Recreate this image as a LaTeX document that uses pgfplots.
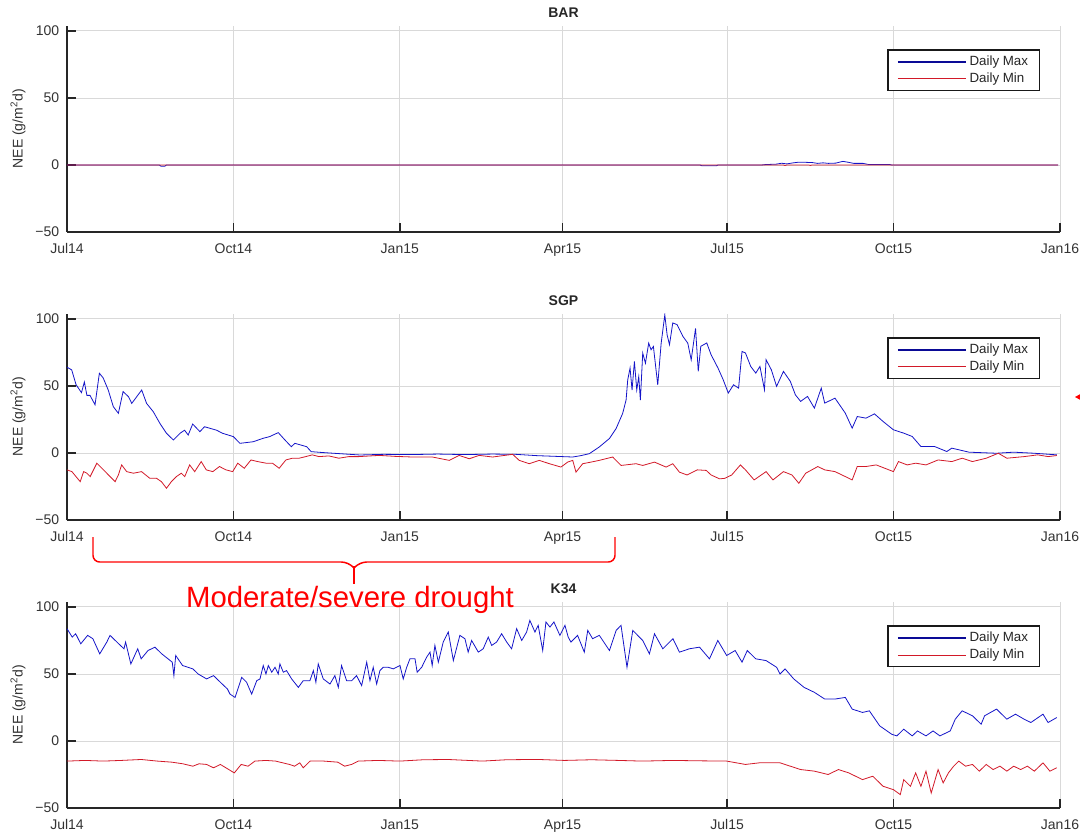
\documentclass[border=0pt]{standalone}
\usepackage{pgfplots}
\pgfplotsset{compat=1.18}
\usepackage{fontspec}
\setmainfont{Liberation Sans}
\definecolor{blmax}{RGB}{20,20,200}
\definecolor{rdmin}{RGB}{210,25,40}
\definecolor{legblue}{RGB}{10,10,150}
\pgfplotsset{
  panel/.style={
    scale only axis, width=744.75pt, height=154.8pt,
    xmin=0, xmax=549, ymin=-50, ymax=104,
    xtick={0,92,184,274,365,457,549},
    xticklabels={Jul14,Oct14,Jan15,Apr15,Jul15,Oct15,Jan16},
    ytick={-50,0,50,100},
    yticklabels={−50,0,50,100},
    axis x line*=bottom, axis y line*=left,
    axis line style={-, line width=1.3pt, black!85},
    tick align=inside, major tick length=7pt,
    tick style={line width=1.1pt, black!85},
    grid=major, major grid style={black!15, line width=0.7pt},
    ticklabel style={font=\fontsize{10.5}{12}\selectfont, text=black!80},
    xticklabel style={yshift=-5pt},
    yticklabel style={xshift=-2.3pt},
    ylabel={NEE (g/m\textsuperscript{2}d)},
    ylabel style={at={(axis description cs:-0.0493,0.5)}, anchor=center, font=\fontsize{10.5}{12}\selectfont, text=black!80},
    title style={at={(axis description cs:0.5,1)}, anchor=center, yshift=3.4pt, font=\fontsize{10.5}{12}\selectfont\bfseries, text=black!85},
    legend cell align=left,
    legend style={at={(rel axis cs:0.98,0.885)}, anchor=north east, draw=black!90, line width=1.1pt, fill=white,
      font=\fontsize{10}{11.5}\selectfont, inner xsep=6.5pt, inner ysep=2.5pt, row sep=0pt,
      nodes={inner sep=2pt, text=black!85}},
  },
  maxline/.style={blmax, line width=0.6pt, legend image code/.code={\draw[draw=legblue, line width=1.5pt] (0pt,0pt) -- (51pt,0pt);}},
  minline/.style={rdmin, line width=0.6pt, legend image code/.code={\draw[draw=rdmin, line width=0.6pt] (0pt,0pt) -- (51pt,0pt);}},
}
\begin{document}
\begin{tikzpicture}
\useasboundingbox (0pt,0pt) rectangle (810pt,627pt);
% ---------------- BAR ----------------
\begin{axis}[panel, at={(50.25pt,453pt)}, anchor=south west, title={BAR}]
\addplot[maxline] coordinates {
(0,0)(51,0)(52,-1)(54,-1)(55,0)(350,0)(351,-0.6)(359,-0.6)(360,0)(384,0)(386,0.3)(392,0.6)(395,1.3)(398,0.8)(401,1.5)(404,2)(408,2)(412,1.8)(415,1.2)(418,1.6)(421,1.2)(425,1.4)(429,2.7)(432,2)(435,1.2)(440,1.2)(443,0.4)(455,0.3)(456,0)(548,0)
};
\addlegendentry{Daily Max}
\addplot[minline] coordinates {
(0,0)(396,0)(397,-0.4)(398,0)(410,0)(411,-0.3)(412,0)(548,0)
};
\addlegendentry{Daily Min}
\end{axis}
% ---------------- SGP ----------------
\begin{axis}[panel, at={(50.25pt,237pt)}, anchor=south west, title={SGP}]
\addplot[maxline] coordinates {
(0,64)(2.6,62)(5,51)(8,45)(9.6,53)(11,43)(12.7,43)(15.5,36)(17.9,59.5)(20,56)(22.8,47)(25.6,34.6)(28.4,29.6)(31,45.8)(34,42)(35.8,37)(41.3,47)(44,37)(47.7,30.8)(51.4,22)(55,14.7)(58.8,9.7)(62.5,14.7)(65,17)(67,13.4)(69.5,21.6)(73.5,15.9)(76,19.6)(82.7,17)(86,14.7)(92,12.2)(95.6,7.2)(103,8.4)(108.5,11)(112,12.2)(116.8,15.2)(120.5,9.7)(124,4.7)(126,7.2)(132.5,4.7)(135,1)(141.7,0.3)(162,-1.5)
(175,-1)(190,-1.2)(205,-0.8)(220,-1.2)(235,-0.8)(248,-1)(260,-2)(270,-2.5)(279.6,-3)(284,-2)(288.8,-0.5)(294.3,4.5)(299.9,10.8)(303.6,18.3)(307.2,29.5)(309.1,39.5)(310,54.5)(311.3,63.3)(312.4,47)(313.7,68.3)(315,47)(316.1,57)(317,39.5)(318.3,74.5)(319.8,67)(321.6,82)(322.9,77)(324.2,79.5)(326.6,50.8)(328.5,82)(330.5,103)(331.8,88)(333.1,80.8)(334.9,97)(337.3,95.8)(340.5,87)(343.2,82)(345.1,69.5)(347.5,93)(349,61)(350.4,79.6)(353.7,82.1)(356.1,73.3)(359.9,63.4)(362.8,54.6)(365.6,44.7)(368.5,50.9)(371.3,48.4)(373.2,75.8)(375.1,74.6)(378,64.6)(380.8,59.6)(383.1,64.6)(385.6,47.2)(386.5,69.6)(389.4,62.1)(392.3,49.7)(396.1,60.9)(399.9,53.4)(402.7,43.4)(405.6,38.5)(409.4,42.2)(413.2,33.5)(417,48.4)(418.9,37.2)(424.6,40.9)(430.3,29.7)(434.1,18.5)(436.9,27.2)(441.7,26)(446.4,29.2)(451.2,23.5)(456.9,17.3)(462.6,14.8)(467.3,12.3)(472.1,4.8)(479.7,4.8)(486.4,1.1)(489.2,3.6)(498.7,0.6)(513.9,-0.2)(523.4,0.6)(534.8,-0.2)(547.2,-1.4)
};
\addlegendentry{Daily Max}
\addplot[minline] coordinates {
(0,-12.6)(2.7,-13.9)(7.3,-21.4)(9.2,-13.9)(11,-15.1)(12.8,-17.6)(16.5,-7.6)(20.2,-12.6)(23.8,-17.6)(26.6,-21.4)(28.4,-16.4)(30.2,-8.9)(33,-13.9)(36.7,-15.1)(41.2,-13.9)(45.8,-18.9)(49.5,-18.9)(52.2,-21.4)(55,-26.3)(57.7,-21.4)(60.5,-17.6)(63.2,-15.1)(65.1,-17.6)(67.8,-8.9)(70.6,-13.9)(74.2,-6.4)(77,-12.6)(80.6,-13.9)(84.3,-10.1)(87.9,-12.6)(91.6,-13.9)(94.4,-7.6)(98,-11.4)(101.7,-5.2)(105.4,-6.4)(110,-7.6)(113.6,-7.6)(117.3,-11.4)(121,-5.2)(124.6,-3.9)(128.3,-3.9)(132,-2.7)(135.6,-1.4)(139.3,-2.7)(144.8,-2.2)(150.3,-3.9)(155.8,-2.7)(161.3,-2.7)
(172.6,-1.8)(181,-2.5)(191,-3)(202,-3)(211.3,-5.5)(216.8,-1.8)(222.4,-4.3)(227.9,-1.8)(235.3,-3)(246.4,-1)(250,-5.5)(255.6,-8)(261.1,-5.5)(266.7,-8)(273.1,-10.5)(276.8,-6.8)(279.6,-5.5)(281.4,-14.3)(285.1,-8)(289.7,-6.8)(294.3,-5.5)(301.7,-3)(306.3,-9.3)(314.6,-8)(318.3,-9.3)(324.8,-6.8)(331.2,-10.5)(334.9,-8)(338.6,-14.3)(342.8,-16.4)(348.5,-12.6)(353.4,-13)(356.1,-16.4)(360.8,-19.3)(363.7,-18.9)(367.5,-16.4)(372.3,-8.9)(375.1,-12.6)(379.9,-20.1)(386.5,-13.9)(390.3,-20.1)(396.1,-13.9)(400.8,-16.4)(404.6,-22.6)(408.4,-15.1)(415.1,-10.1)(418.9,-12.6)(424.6,-13.9)(430.3,-17.6)(434.1,-20.1)(436.9,-10.1)(441.7,-10.1)(447.4,-8.9)(456.9,-13.9)(459.7,-6.4)(464.5,-8.9)(469.2,-7.6)(474.9,-8.9)(481.6,-5.2)(489.2,-6.4)(494.9,-3.9)(500.6,-6.4)(508.2,-3.9)(514.9,-0.2)(519.6,-3.9)(529.1,-2.7)(536.7,-1.4)(542.4,-2.7)(547.2,-1.9)
};
\addlegendentry{Daily Min}
\end{axis}
% ---------------- K34 ----------------
\begin{axis}[panel, at={(50.25pt,21pt)}, anchor=south west, title={K34}]
\addplot[maxline] coordinates {
(0,83.8)(2.9,77.5)(4.8,80)(7.6,72.5)(11.4,78.8)(14.3,76.3)(18.1,65)(22,73.8)(23.8,78.8)(28.6,72.5)(31.5,68.8)(32.4,73.8)(35.3,57.5)(39.1,68.8)(41,61.3)(44.8,67.5)(48.6,70)(52.4,65)(58.2,58.8)(59.1,48.8)(60.1,63.8)(63.9,56.3)(69.6,53.8)(72.5,50)(77.2,46.3)(81,48.8)(84.8,43.8)(88.7,38.8)
(90.1,35)(92.9,32.5)(96.6,47.5)(99.3,43.8)(102.1,35)(104.9,45)(106.7,46.3)(108.5,56.3)(110,50)(111.3,56.3)(113.2,51.3)(115,55)(116.8,50)(117.7,57.5)(119.6,51.3)(121.4,52.5)(124.2,46.3)(127.9,40)(130.6,45)(134.3,45)(136.2,52.5)(137.6,43.8)(138.9,57.5)(141.7,46.3)(145.4,42.5)(148.1,48.8)(150,40)(151.8,56.3)(154.6,45)(157.4,45)(160.1,48.8)(162.9,41.3)(165.7,58.8)(167.5,45)(169.3,55)(171.2,42.5)(173,52.5)(174.8,55)(177.6,55)(180.4,53.8)(184.1,56.3)(185.9,46.3)(187.8,55)(189.6,61.3)(192.4,61.3)(193.6,51.3)(196.1,55)(198.8,62.5)(200.7,66.3)(201.9,56.3)(203.4,71.3)(205.3,58.8)(208,73.8)(210.8,81.3)(213.6,60)(217.2,78.8)(220,76.3)(221.8,66.3)(223.7,75)(227.4,66.3)(230.1,68.8)(232.9,77.5)(234.8,71.3)(237.5,73.8)(240.3,80)(243.1,73.8)(245.8,68.8)(248.6,83.8)(251.4,75)(254.1,81.3)(255.9,90)(258.7,81.3)(260.5,86.3)(263,67.5)(264.8,88.8)(267,85)(269.2,88.8)(272.5,78.8)(275.3,86.3)(277.1,77.5)
(278.6,73.8)(282.3,78.8)(286,66.3)(287.9,82.5)(290.6,76.3)(294.3,78.8)(299.9,67.5)(303.6,82.5)(306.3,86.3)(309.6,55)(312.8,82.5)(318.3,75)(322,65)(324.8,80)(329.4,68.8)(335,76.3)(338.6,66.3)(344.1,68.8)(349.7,70)(355.2,61.3)(359.8,75)(364.7,63.8)(369.4,67.5)(373.2,58.8)(376.1,67.5)(380.8,61.3)(386.5,60)(392.3,55)(394.2,50)(397,53.8)(401.8,46.3)(407.5,40)(413.2,36.3)(418.9,31.3)(424.6,31.3)(430.3,32.5)(434.1,23.8)(439.8,21.3)(443.6,22.5)(449.3,11.3)(456,5)(458.8,3.8)(462.6,8.8)(467.3,3.8)(470.2,7.5)(474.9,3.8)(478.8,7.5)(482.6,3.8)(488.3,7.5)(491.1,16.3)(494.9,22.5)(500.6,18.8)(505.4,12.5)(507.3,18.8)(513.9,23.8)(519.6,16.3)(524.4,20)(529.1,16.3)(532.9,13.8)(539.6,20)(542.4,13.8)(547.2,17.5)
};
\addlegendentry{Daily Max}
\addplot[minline] coordinates {
(0,-15)(10,-14.5)(20,-15)(30,-14.5)(41,-13.8)(50,-15)(58,-15.8)(64,-17)(69.6,-18.8)(73,-17)(77.2,-17.5)(81,-20)(84.8,-17.5)(92.5,-23.8)(96.3,-17.5)(100.1,-18.8)(103.9,-15)(110,-14.5)(115.3,-15)(123,-17.5)(125.8,-18.8)(128.7,-16.3)(130.6,-20)(134.4,-15)(142,-15)(149.7,-15.8)(153.5,-18.8)(157.3,-17.5)(161.1,-15)(172,-14.5)(184,-15)(197,-14)(210.7,-13.8)(229.7,-15)(243,-14)(256.4,-13.8)(261,-13.8)(275,-14.5)(290,-14)(305,-14.5)(318,-15)(335,-14.5)(350,-14.8)(364.7,-15)(375.1,-17.5)(382.7,-16.3)(394.2,-16.3)(405.6,-21.3)(413.2,-22.5)(420.8,-25)(426.5,-21.3)(432.2,-23.8)(439.8,-28.8)(445.5,-26.3)(451.2,-33.8)(456.9,-36.3)(460.7,-40)(462.6,-28.8)(466.3,-33.8)(469.2,-23.8)(472.1,-33.8)(474.9,-22.5)(477.8,-38.8)(481.6,-21.3)(484.4,-31.3)(487.3,-23.8)(490.2,-18.8)(493,-15)(496.8,-18.8)(500.6,-17.5)(504.4,-22.5)(508.2,-17.5)(512,-21.3)(515.8,-18.8)(519.6,-22.5)(523.4,-18.8)(527.2,-21.3)(531,-18.8)(534.8,-22.5)(539.6,-16.3)(543.4,-22.5)(547.2,-20)
};
\addlegendentry{Daily Min}
\end{axis}
% ---------------- annotation ----------------
\begin{scope}[x=0.75pt, y=0.75pt]
\draw[red, line width=1.1pt, rounded corners=5pt] (93,299) -- (93,274) -- (348,274) -- (354,268);
\draw[red, line width=1.1pt, rounded corners=5pt] (615,299) -- (615,274) -- (360,274) -- (354,268);
\draw[red, line width=1.1pt] (354,270) -- (354,252);
\node[text=red, font=\fontsize{22}{26}\selectfont, anchor=center] at (350,236) {Moderate/severe drought};
\fill[red] (1075,439) -- (1084,444) -- (1084,434) -- cycle;
\end{scope}
\end{tikzpicture}
\end{document}
